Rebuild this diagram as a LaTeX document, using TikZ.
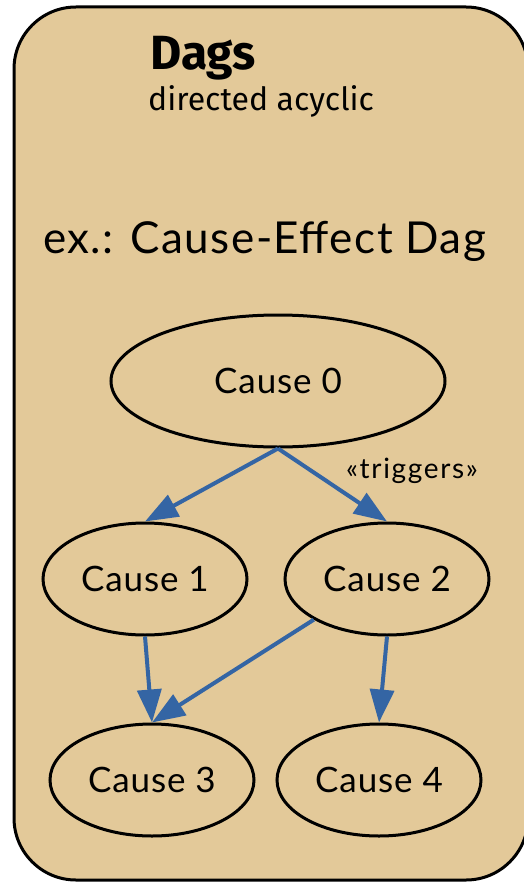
\documentclass[tikz,border=0pt]{standalone}
\usepackage{fontspec}
\setmainfont{Lato}
\newfontfamily\titlefont{Fira Sans}
\usetikzlibrary{shapes.geometric,arrows.meta}
\definecolor{boxfill}{HTML}{E3C999}
\definecolor{edgeblue}{HTML}{3465A4}
\tikzset{
  causenode/.style={ellipse, draw=black, line width=3pt, fill=boxfill, inner sep=0pt,
    minimum width=204pt, minimum height=112pt,
    font=\addfontfeature{LetterSpace=2.5}\fontsize{35}{40}\selectfont},
  dagedge/.style={draw=edgeblue, line width=4pt, -{Triangle[length=33pt,width=24pt]}},
}
\begin{document}
\begin{tikzpicture}[x=1pt,y=-1pt]
\useasboundingbox (0,0) rectangle (523,882);
\draw[line width=3pt, fill=boxfill, rounded corners=62pt] (14,7) rectangle (528,880);
\node[anchor=base west, inner sep=0pt, font=\titlefont\bfseries\fontsize{48}{56}\selectfont] (title) at (150,70) {Dags};
\node[anchor=base west, inner sep=0pt, font=\titlefont\fontsize{32}{38}\selectfont] (sub) at (148,111) {directed acyclic};
\node[anchor=base west, inner sep=0pt, font=\addfontfeature{LetterSpace=3.3}\fontsize{44}{50}\selectfont] (ex) at (43,254) {ex.: Cause-Effect Dag};
\node[causenode, minimum width=334pt, minimum height=132pt] (c0) at (278,381) {Cause 0};
\node[causenode] (c1) at (145,579) {Cause 1};
\node[causenode] (c2) at (387,579) {Cause 2};
\node[causenode] (c3) at (152,780) {Cause 3};
\node[causenode] (c4) at (379,780) {Cause 4};
\draw[dagedge] (c0.south) -- (c1.north);
\draw[dagedge] (c0.south) -- (c2.north);
\node[inner sep=0pt, anchor=base, font=\addfontfeature{LetterSpace=6}\fontsize{28}{32}\selectfont] (trig) at (412,478) {«triggers»};
\draw[dagedge] (c1.south) -- (c3.north);
\draw[dagedge] (c2.south west) -- (c3.north);
\draw[dagedge] (c2.south) -- (c4.north);
\end{tikzpicture}
\end{document}
